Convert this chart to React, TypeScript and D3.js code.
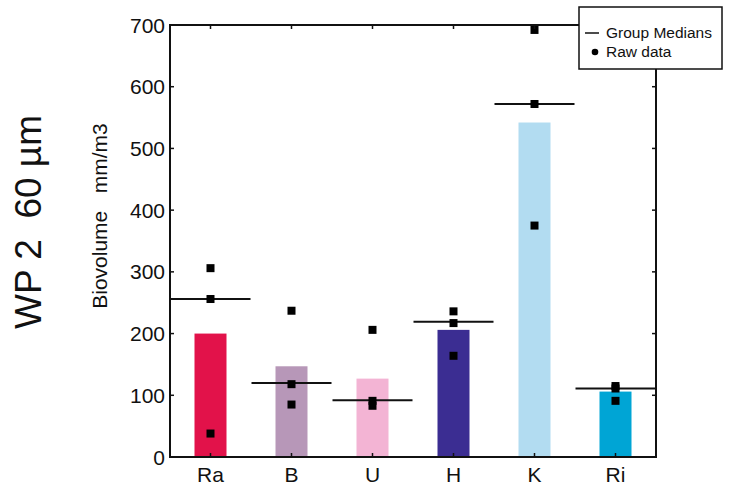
import React from "react";
import * as d3 from "d3";

const categories = ["Ra", "B", "U", "H", "K", "Ri"];
const barValues = [200, 147, 127, 206, 542, 106];
const medianValues = [256, 120, 92, 219, 572, 111];
const rawData = [
  [306, 256, 38],
  [237, 118, 85],
  [206, 91, 83],
  [236, 217, 164],
  [692, 572, 375],
  [115, 111, 91],
];
const barColors = ["#e2124a", "#b797b8", "#f3b4d4", "#3b2d92", "#b2dcf1", "#00a5d5"];
const yTicks = [0, 100, 200, 300, 400, 500, 600, 700];
const title = "WP 2  60 µm";
const yLabel = "Biovolume   mm/m3";
const legendItems = ["Group Medians", "Raw data"];

const W = 731;
const H = 497;
const m = { left: 170, right: 656, top: 25, bottom: 457 };
const FONT = "'Liberation Sans', Arial, sans-serif";

export default function App() {
  const x = d3.scalePoint<string>().domain(categories).range([m.left, m.right]).padding(0.5);
  const y = d3.scaleLinear().domain([0, 700]).range([m.bottom, m.top]);
  const barW = 32;
  const medW = 80;
  const sq = 8;

  return (
    <svg width={W} height={H} style={{ position: "absolute", left: 0, top: 0, background: "#fff" }} fontFamily={FONT}>
      <defs>
        <clipPath id="plot">
          <rect x={m.left} y={m.top} width={m.right - m.left} height={m.bottom - m.top} />
        </clipPath>
      </defs>
      <rect width={W} height={H} fill="#fff" />
      {/* title */}
      <text transform={`translate(28,222) rotate(-90)`} textAnchor="middle" dominantBaseline="central" fontSize={37} fill="#111" style={{ whiteSpace: "pre" }}>
        {title}
      </text>
      <text transform={`translate(99,216) rotate(-90)`} textAnchor="middle" dominantBaseline="central" fontSize={21} fill="#111" style={{ whiteSpace: "pre" }}>
        {yLabel}
      </text>
      {/* bars */}
      {categories.map((c, i) => (
        <rect key={c} x={(x(c) as number) - barW / 2} y={y(barValues[i])} width={barW} height={y(0) - y(barValues[i])} fill={barColors[i]} />
      ))}
      {/* medians */}
      <g clipPath="url(#plot)">
        {categories.map((c, i) => (
          <line key={c} x1={(x(c) as number) - medW / 2} x2={(x(c) as number) + medW / 2} y1={y(medianValues[i])} y2={y(medianValues[i])} stroke="#111" strokeWidth={2} />
        ))}
      </g>
      {/* raw points */}
      {categories.map((c, i) =>
        rawData[i].map((v, j) => (
          <rect key={c + j} x={(x(c) as number) - sq / 2} y={y(v) - sq / 2} width={sq} height={sq} fill="#000" />
        ))
      )}
      {/* frame */}
      <rect x={m.left} y={m.top} width={m.right - m.left} height={m.bottom - m.top} fill="none" stroke="#111" strokeWidth={2} />
      {/* y ticks */}
      {yTicks.map((t) => (
        <g key={t}>
          <line x1={m.left} x2={m.left + 4} y1={y(t)} y2={y(t)} stroke="#111" strokeWidth={1.5} />
          <line x1={m.right} x2={m.right - 4} y1={y(t)} y2={y(t)} stroke="#111" strokeWidth={1.5} />
          <text x={m.left - 5} y={y(t)} textAnchor="end" dominantBaseline="central" fontSize={21} fill="#111">
            {t}
          </text>
        </g>
      ))}
      {/* x ticks */}
      {categories.map((c) => (
        <g key={c}>
          <line x1={x(c)} x2={x(c)} y1={m.bottom} y2={m.bottom - 4} stroke="#111" strokeWidth={1.5} />
          <line x1={x(c)} x2={x(c)} y1={m.top} y2={m.top + 4} stroke="#111" strokeWidth={1.5} />
          <text x={x(c)} y={482} textAnchor="middle" fontSize={21} fill="#111">
            {c}
          </text>
        </g>
      ))}
      {/* legend */}
      <g>
        <rect x={579} y={7} width={143} height={62} fill="#fff" stroke="#111" strokeWidth={1.5} />
        <line x1={585} x2={599} y1={33} y2={33} stroke="#111" strokeWidth={1.5} />
        <circle cx={595} cy={52} r={3.3} fill="#000" />
        <text x={606} y={38} fontSize={15.5} fill="#111">{legendItems[0]}</text>
        <text x={606} y={57} fontSize={15.5} fill="#111">{legendItems[1]}</text>
      </g>
    </svg>
  );
}
